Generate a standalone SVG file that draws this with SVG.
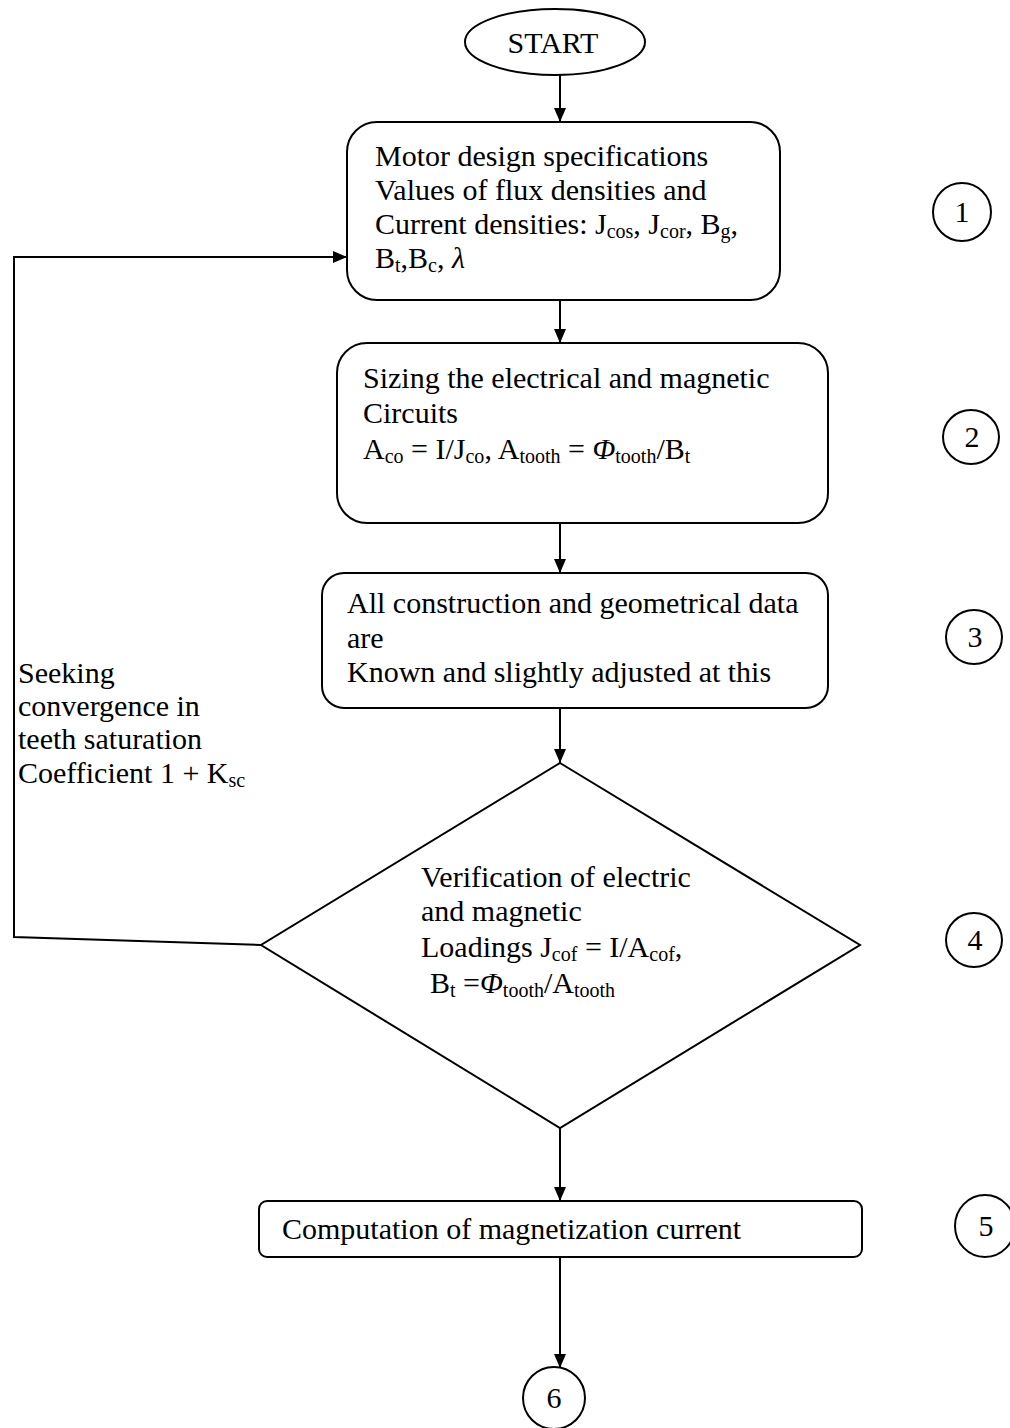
<svg xmlns="http://www.w3.org/2000/svg" width="1010" height="1428" viewBox="0 0 1010 1428">
  <style>
    .shape { fill: #fff; stroke: #000; stroke-width: 2; }
    .wire { fill: none; stroke: #000; stroke-width: 2; }
    text { font-family: "Liberation Serif", "Times New Roman", serif; font-size: 30px; fill: #000; }
    .num { text-anchor: middle; }
    .sub { font-size: 20px; }
    .it { font-style: italic; }
  </style>
  <defs>
    <marker id="arrow" viewBox="0 0 14 12" refX="14" refY="6" markerWidth="14" markerHeight="12" markerUnits="userSpaceOnUse" orient="auto">
      <path d="M0,0 L14,6 L0,12 Z" fill="#000"/>
    </marker>
  </defs>

  <!-- connectors -->
  <g id="connectors">
    <line class="wire" x1="560" y1="75" x2="560" y2="122" marker-end="url(#arrow)"/>
    <line class="wire" x1="560" y1="300" x2="560" y2="343" marker-end="url(#arrow)"/>
    <line class="wire" x1="560" y1="523" x2="560" y2="573" marker-end="url(#arrow)"/>
    <line class="wire" x1="560" y1="708" x2="560" y2="763" marker-end="url(#arrow)"/>
    <line class="wire" x1="560" y1="1128" x2="560" y2="1201" marker-end="url(#arrow)"/>
    <line class="wire" x1="560" y1="1257" x2="560" y2="1368" marker-end="url(#arrow)"/>
    <!-- feedback loop from the decision back to the specifications -->
    <polyline class="wire" points="261,945 14,937 14,257 347,257" marker-end="url(#arrow)"/>
  </g>

  <g id="start">
    <ellipse class="shape" cx="555" cy="42" rx="90" ry="33"/>
    <text x="553" y="53" text-anchor="middle">START</text>
  </g>

  <g id="specs">
    <rect class="shape" x="347" y="122" width="433" height="178" rx="30" ry="30"/>
    <text x="375" y="166">Motor design specifications</text>
    <text x="375" y="200">Values of flux densities and</text>
    <text x="375" y="234">Current densities: J<tspan class="sub" dy="4">cos</tspan><tspan dy="-4">, J</tspan><tspan class="sub" dy="4">cor</tspan><tspan dy="-4">, B</tspan><tspan class="sub" dy="4">g</tspan><tspan dy="-4">,</tspan></text>
    <text x="375" y="268">B<tspan class="sub" dy="4">t</tspan><tspan dy="-4">,B</tspan><tspan class="sub" dy="4">c</tspan><tspan dy="-4">, </tspan><tspan class="it">λ</tspan></text>
  </g>

  <g id="sizing">
    <rect class="shape" x="337" y="343" width="491" height="180" rx="30" ry="30"/>
    <text x="363" y="388">Sizing the electrical and magnetic</text>
    <text x="363" y="423">Circuits</text>
    <text x="363" y="459">A<tspan class="sub" dy="4">co</tspan><tspan dy="-4"> = I/J</tspan><tspan class="sub" dy="4">co</tspan><tspan dy="-4">, A</tspan><tspan class="sub" dy="4">tooth</tspan><tspan dy="-4"> = </tspan><tspan class="it">Φ</tspan><tspan class="sub" dy="4">tooth</tspan><tspan dy="-4">/B</tspan><tspan class="sub" dy="4">t</tspan></text>
  </g>

  <g id="geometry">
    <rect class="shape" x="322" y="573" width="506" height="135" rx="22" ry="22"/>
    <text x="347" y="613">All construction and geometrical data</text>
    <text x="347" y="648">are</text>
    <text x="347" y="682">Known and slightly adjusted at this</text>
  </g>

  <g id="verification">
    <polygon class="shape" points="560,763 860,945 560,1128 261,945"/>
    <text x="421" y="887">Verification of electric</text>
    <text x="421" y="921">and magnetic</text>
    <text x="421" y="957">Loadings J<tspan class="sub" dy="4">cof</tspan><tspan dy="-4"> = I/A</tspan><tspan class="sub" dy="4">cof</tspan><tspan dy="-4">,</tspan></text>
    <text x="430" y="993">B<tspan class="sub" dy="4">t</tspan><tspan dy="-4"> =</tspan><tspan class="it">Φ</tspan><tspan class="sub" dy="4">tooth</tspan><tspan dy="-4">/A</tspan><tspan class="sub" dy="4">tooth</tspan></text>
  </g>

  <g id="magnetization">
    <rect class="shape" x="259" y="1201" width="603" height="56" rx="8" ry="8"/>
    <text x="282" y="1239">Computation of magnetization current</text>
  </g>

  <g id="loop-label">
    <text x="18" y="683">Seeking</text>
    <text x="18" y="716">convergence in</text>
    <text x="18" y="749">teeth saturation</text>
    <text x="18" y="783">Coefficient 1 + K<tspan class="sub" dy="4">sc</tspan></text>
  </g>

  <g id="step1">
    <ellipse class="shape" cx="962" cy="212" rx="29" ry="29"/>
    <text class="num" x="962" y="222">1</text>
  </g>
  <g id="step2">
    <ellipse class="shape" cx="971" cy="437" rx="28" ry="27"/>
    <text class="num" x="972" y="447">2</text>
  </g>
  <g id="step3">
    <ellipse class="shape" cx="974" cy="637" rx="28" ry="27"/>
    <text class="num" x="975" y="647">3</text>
  </g>
  <g id="step4">
    <ellipse class="shape" cx="974" cy="940" rx="28" ry="27"/>
    <text class="num" x="975" y="950">4</text>
  </g>
  <g id="step5">
    <ellipse class="shape" cx="985" cy="1226" rx="30" ry="31"/>
    <text class="num" x="986" y="1236">5</text>
  </g>
  <g id="step6">
    <ellipse class="shape" cx="554" cy="1398" rx="31" ry="31"/>
    <text class="num" x="554" y="1408">6</text>
  </g>
</svg>
